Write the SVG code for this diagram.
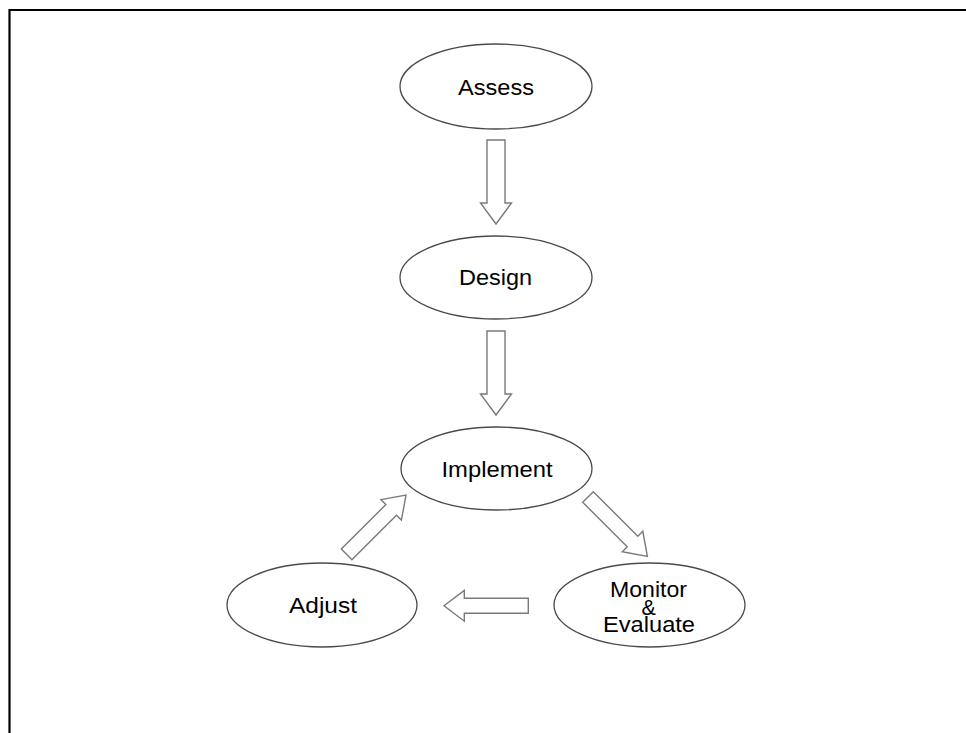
<svg xmlns="http://www.w3.org/2000/svg" width="966" height="733" viewBox="0 0 966 733">
<style>
.node ellipse{fill:#fff;stroke:#4a4a4a;stroke-width:1.3}
.node text{font-family:"Liberation Sans",Arial,sans-serif;font-size:21.5px;fill:#000;text-anchor:middle}
.arrow{fill:#fff;stroke:#7a7a7a;stroke-width:1.4;stroke-linejoin:miter}
.frame{fill:none;stroke:#000;stroke-width:2.2}
</style>
<rect width="966" height="733" fill="#fff"/>
<path class="frame" d="M9.5,733 V10 H966"/>
<g id="connectors">
<path class="arrow" transform="translate(496,140) rotate(90)" d="M0,-9 H63 V-15.5 L84,0 L63,15.5 V9 H0 Z"/>
<path class="arrow" transform="translate(496,331) rotate(90)" d="M0,-9 H63 V-15.5 L84,0 L63,15.5 V9 H0 Z"/>
<path class="arrow" transform="translate(588,497) rotate(45)" d="M0,-7.5 H63 V-14.5 L84,0 L63,14.5 V7.5 H0 Z"/>
<path class="arrow" transform="translate(528.3,605.8) rotate(180)" d="M0,-7.5 H64 V-15.4 L84.3,0 L64,15.4 V7.5 H0 Z"/>
<path class="arrow" transform="translate(346.6,554.4) rotate(-45)" d="M0,-7.5 H63 V-14.5 L84,0 L63,14.5 V7.5 H0 Z"/>
</g>
<g id="assess" class="node">
<ellipse cx="496" cy="86.5" rx="96" ry="42.5"/>
<text x="496" y="95" textLength="76" lengthAdjust="spacingAndGlyphs">Assess</text>
</g>
<g id="design" class="node">
<ellipse cx="496" cy="277.5" rx="96" ry="41.5"/>
<text x="495.5" y="285" textLength="73" lengthAdjust="spacingAndGlyphs">Design</text>
</g>
<g id="implement" class="node">
<ellipse cx="496.5" cy="468.5" rx="95.5" ry="41.5"/>
<text x="497" y="477" textLength="111" lengthAdjust="spacingAndGlyphs">Implement</text>
</g>
<g id="adjust" class="node">
<ellipse cx="322" cy="605" rx="95" ry="42"/>
<text x="323" y="613" textLength="68" lengthAdjust="spacingAndGlyphs">Adjust</text>
</g>
<g id="monitor" class="node">
<ellipse cx="649.5" cy="605" rx="95.5" ry="42"/>
<text><tspan x="648.5" y="597" textLength="77" lengthAdjust="spacingAndGlyphs">Monitor</tspan><tspan x="648.7" y="615">&amp;</tspan><tspan x="649" y="632" textLength="92" lengthAdjust="spacingAndGlyphs">Evaluate</tspan></text>
</g>
</svg>
